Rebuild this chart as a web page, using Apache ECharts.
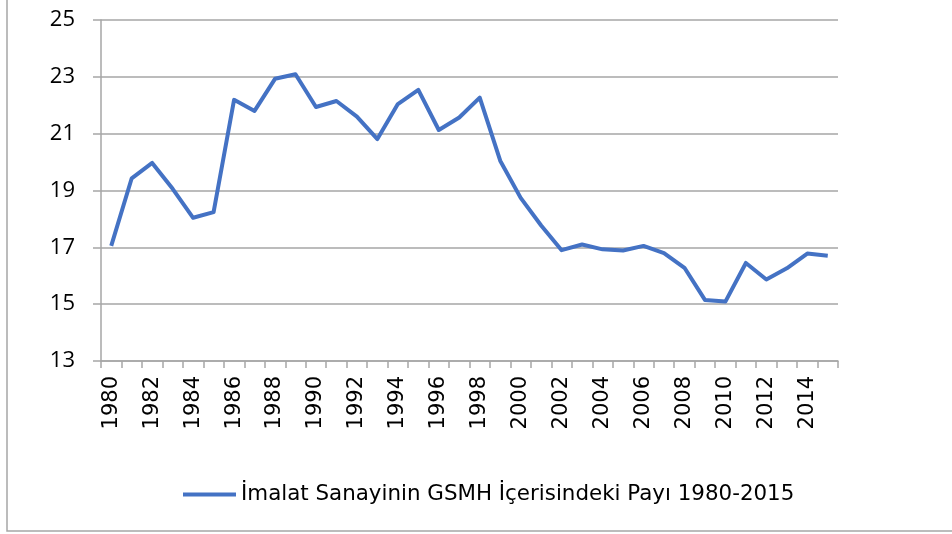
<!DOCTYPE html>
<html>
<head>
<meta charset="utf-8">
<script src="https://cdn.jsdelivr.net/npm/echarts@6/dist/echarts.min.js"></script>
<style>
html,body{margin:0;padding:0;background:#fff;}
#c{width:952px;height:534px;}
</style>
</head>
<body>
<div id="c"></div>
<script>
const years = ['1980','1981','1982','1983','1984','1985','1986','1987','1988','1989','1990','1991','1992','1993','1994','1995','1996','1997','1998','1999','2000','2001','2002','2003','2004','2005','2006','2007','2008','2009','2010','2011','2012','2013','2014','2015'];
const share = [17.05,19.43,19.97,19.06,18.04,18.24,22.19,21.80,22.93,23.09,21.94,22.15,21.60,20.81,22.04,22.54,21.13,21.57,22.27,20.05,18.74,17.77,16.90,17.10,16.93,16.89,17.05,16.80,16.28,15.15,15.09,16.45,15.87,16.26,16.78,16.70];
const seriesName = 'İmalat Sanayinin GSMH İçerisindeki Payı 1980-2015';
const yMin = 13, yMax = 25, yStep = 2;

const chart = echarts.init(document.getElementById('c'), null, {renderer:'canvas'});
chart.setOption({
  animation: false,
  backgroundColor: '#fff',
  graphic: [{
    type: 'rect',
    shape: {x: 7, y: -10, width: 1000, height: 541},
    style: {fill: 'none', stroke: '#a6a6a6', lineWidth: 1.5},
    silent: true
  }],
  grid: {left: 101, right: 114, top: 20, bottom: 173, containLabel: false},
  legend: {
    data: [{name: seriesName, icon: 'rect'}],
    left: 178,
    top: 479,
    itemWidth: 53,
    itemHeight: 4,
    itemGap: 4,
    textStyle: {fontFamily: 'DejaVu Sans', fontSize: 21.4, color: '#000'}
  },
  xAxis: {
    type: 'category',
    data: years,
    boundaryGap: true,
    axisLine: {show: true, lineStyle: {color: '#a6a6a6', width: 1.5}},
    axisTick: {show: true, interval: 0, length: 7, alignWithLabel: false, lineStyle: {color: '#a6a6a6', width: 1.5}},
    axisLabel: {interval: 1, rotate: 90, margin: 15, fontFamily: 'DejaVu Sans', fontSize: 21, color: '#000'},
    splitLine: {show: false}
  },
  yAxis: {
    type: 'value',
    min: yMin, max: yMax, interval: yStep,
    axisLine: {show: true, lineStyle: {color: '#a6a6a6', width: 1.5}},
    axisTick: {show: true, length: 8, inside: false, lineStyle: {color: '#a6a6a6', width: 1.5}},
    axisLabel: {margin: 26, fontFamily: 'Open Sans', fontSize: 22, color: '#000'},
    splitLine: {show: true, lineStyle: {color: '#a6a6a6', width: 1.5}}
  },
  series: [{
    name: seriesName,
    type: 'line',
    data: share,
    showSymbol: false,
    symbol: 'none',
    lineStyle: {color: '#4472C4', width: 4, join: 'round'},
    itemStyle: {color: '#4472C4'}
  }]
});
</script>
</body>
</html>
